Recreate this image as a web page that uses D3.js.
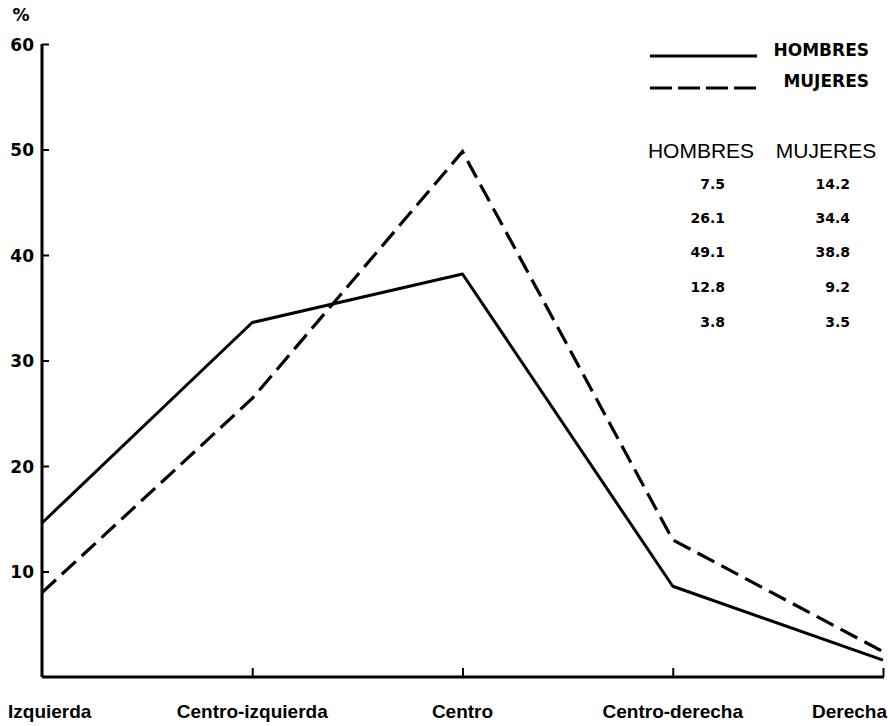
<!DOCTYPE html>
<html><head><meta charset="utf-8">
<script src="https://cdn.jsdelivr.net/npm/d3@7"></script>
<style>body{margin:0;background:#fff}svg{display:block}</style>
</head><body>
<script>
const categories = ["Izquierda","Centro-izquierda","Centro","Centro-derecha","Derecha"];
const hombres = [14.6, 33.6, 38.2, 8.6, 1.6];
const mujeres = [8.0, 26.4, 49.8, 13.0, 2.4];
const yTicks = [10,20,30,40,50,60];
const tableHeaders = ["HOMBRES","MUJERES"];
const tableHombres = ["7.5","26.1","49.1","12.8","3.8"];
const tableMujeres = ["14.2","34.4","38.8","9.2","3.5"];
const legendItems = [{name:"HOMBRES", dash:null},{name:"MUJERES", dash:"22,6"}];

const W=888,H=726;
const svg=d3.select("body").append("svg").attr("width",W).attr("height",H);
const font="'Liberation Sans', Arial, Helvetica, sans-serif";
const wide="'DejaVu Sans', Verdana, sans-serif";

const x=d3.scalePoint().domain(categories).range([42,883]);
const y=d3.scaleLinear().domain([0,60]).range([677,44]);

// y axis
const yAx=d3.axisLeft(y).tickValues(yTicks).tickSize(-7).tickPadding(10).tickFormat(d3.format("d"));
const gy=svg.append("g").attr("transform","translate(42,0)").call(yAx);
gy.select(".domain").attr("d","M0,677V44").attr("stroke","#000").attr("stroke-width",3);
gy.selectAll(".tick line").attr("stroke","#000").attr("stroke-width",2);
gy.selectAll(".tick text").attr("font-family",wide).attr("font-weight","bold").attr("font-size",17).attr("fill","#000").attr("x",-8).attr("dy","0.36em");

svg.append("text").attr("x",21).attr("y",21).attr("font-family",wide).attr("font-weight","bold").attr("font-size",17).attr("text-anchor","middle").text("%");

// x axis
const xAx=d3.axisBottom(x).tickSize(-9).tickFormat("");
const gx=svg.append("g").attr("transform","translate(0,677)").call(xAx);
gx.select(".domain").attr("d","M42,0H884").attr("stroke","#000").attr("stroke-width",3);
gx.selectAll(".tick line").attr("stroke","#000").attr("stroke-width",2);
gx.selectAll(".tick").filter((d,i)=>i===0).remove();

// category labels
svg.append("g").selectAll("text").data(categories).join("text")
  .attr("font-family",font).attr("font-weight","bold").attr("font-size",19)
  .attr("y",718).attr("fill","#000").text(d=>d)
  .each(function(d){
    const t=d3.select(this);
    const w=this.getComputedTextLength();
    let cx=x(d);
    if(cx-w/2<8) cx=8+w/2;
    if(cx+w/2>887) cx=887-w/2;
    t.attr("x",cx).attr("text-anchor","middle");
  });

// lines
const line=d3.line().x((d,i)=>x(categories[i])).y(d=>y(d));
svg.append("path").datum(hombres).attr("d",line).attr("fill","none").attr("stroke","#000").attr("stroke-width",3).attr("stroke-linejoin","round");
svg.append("path").datum(mujeres).attr("d",line).attr("fill","none").attr("stroke","#000").attr("stroke-width",3.2).attr("stroke-dasharray","19,8");

// legend
const lg=svg.append("g");
legendItems.forEach((it,i)=>{
  const ly=[56,88][i];
  const l=lg.append("line").attr("x1",650).attr("x2",757).attr("y1",ly).attr("y2",ly).attr("stroke","#000").attr("stroke-width",3);
  if(it.dash) l.attr("stroke-dasharray",it.dash);
  lg.append("text").attr("x",869).attr("y",[50,81][i]).attr("dy","0.36em").attr("text-anchor","end")
    .attr("font-family",wide).attr("font-weight","bold").attr("font-size",17).text(it.name);
});

// table
const tg=svg.append("g").attr("font-family",font).attr("fill","#000");
tg.append("text").attr("x",701).attr("y",150).attr("dy","0.36em").attr("text-anchor","middle").attr("font-size",21).text(tableHeaders[0]);
tg.append("text").attr("x",826).attr("y",150).attr("dy","0.36em").attr("text-anchor","middle").attr("font-size",21).text(tableHeaders[1]);
const rowY=[184,218,252,287,322];
tg.selectAll("text.h").data(tableHombres).join("text").attr("class","h")
  .attr("x",725).attr("y",(d,i)=>rowY[i]).attr("dy","0.36em").attr("text-anchor","end")
  .attr("font-family",wide).attr("font-weight","bold").attr("font-size",14).text(d=>d);
tg.selectAll("text.m").data(tableMujeres).join("text").attr("class","m")
  .attr("x",850).attr("y",(d,i)=>rowY[i]).attr("dy","0.36em").attr("text-anchor","end")
  .attr("font-family",wide).attr("font-weight","bold").attr("font-size",14).text(d=>d);
</script>
</body></html>
